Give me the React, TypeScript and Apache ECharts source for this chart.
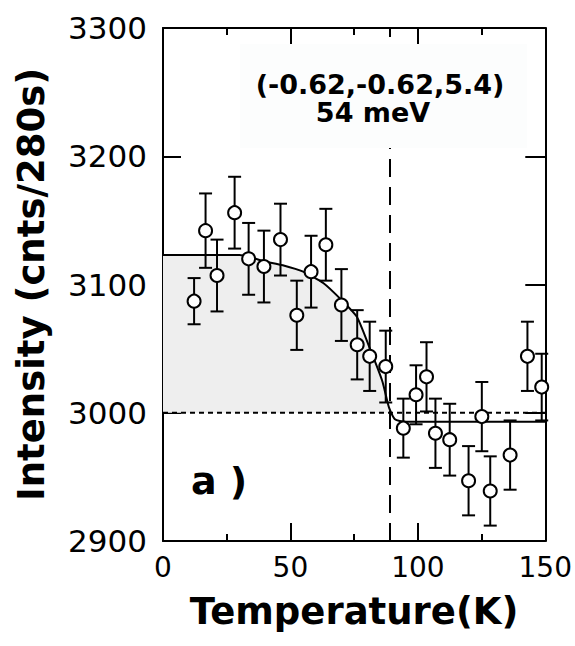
import React, { useEffect, useRef } from "react";
import * as echarts from "echarts";

// Measured data points (temperature in K, intensity in counts/280s, error bar half-height)
const temps = [12.2, 16.7, 21.2, 28.1, 33.6, 39.6, 46.1, 52.5, 58.1, 63.9, 70.0, 76.2, 81.1, 87.4, 94.3, 99.3, 103.4, 106.9, 112.5, 119.9, 125.1, 128.4, 136.2, 143.0, 148.6];
const intensities = [3087, 3142, 3107, 3156, 3120, 3114, 3135, 3076, 3110, 3131, 3084, 3053, 3044, 3036, 2988, 3014, 3028, 2984, 2979, 2947, 2997, 2939, 2967, 3044, 3020];
const errors = [18, 29, 28, 28, 28, 28, 28, 27, 28, 28, 28, 27, 27, 28, 23, 23, 27, 27, 28, 27, 27, 27, 27, 27, 26];

// Fit curve
const fitT = [0, 30, 40, 47, 55, 63, 70, 76, 81, 86, 88.7, 91, 95, 150];
const fitI = [3123, 3123, 3118, 3115, 3110, 3101, 3088, 3075, 3051, 3025, 3004, 2995, 2993, 2993];

const baseline = 3000;
const transitionT = 89;

const xTicks = [0, 50, 100, 150];
const yTicks = [2900, 3000, 3100, 3200, 3300];

const annotationLine1 = "(-0.62,-0.62,5.4)";
const annotationLine2 = "54 meV";
const panelLabel = "a )";

export default function App() {
  const ref = useRef<HTMLDivElement>(null);
  useEffect(() => {
    if (!ref.current) return;
    const chart = echarts.init(ref.current, null, { renderer: "svg" });
    const fitData = fitT.map((t, i) => [t, fitI[i]]);
    const fillData = fitData.filter((d) => d[1] >= baseline);
    const pts = temps.map((t, i) => [t, intensities[i], errors[i]]);
    const bold = "DejaVu Sans";
    const plain = (v: number) => String(v);
    const option: any = {
      animation: false,
      backgroundColor: "#ffffff",
      grid: { left: 163, right: 28, top: 28, bottom: 105 },
      xAxis: [
        {
          type: "value",
          min: xTicks[0],
          max: xTicks[xTicks.length - 1],
          interval: 50,
          name: "Temperature(K)",
          nameLocation: "middle",
          nameGap: 52,
          nameTextStyle: { fontFamily: bold, fontWeight: "bold", fontSize: 37, color: "#000" },
          axisLine: { show: true, onZero: false, lineStyle: { color: "#000", width: 2 } },
          axisTick: { show: true, inside: true, length: 18, lineStyle: { color: "#000", width: 2 } },
          minorTick: { show: true, splitNumber: 2, length: 7, lineStyle: { color: "#000", width: 2 } },
          splitLine: { show: false },
          axisLabel: { fontFamily: "DejaVu Sans", fontSize: 28, color: "#000", margin: 12, formatter: plain },
        },
        {
          type: "value",
          position: "top",
          min: xTicks[0],
          max: xTicks[xTicks.length - 1],
          interval: 50,
          axisLine: { show: true, onZero: false, lineStyle: { color: "#000", width: 2 } },
          axisTick: { show: true, inside: true, length: 17, lineStyle: { color: "#000", width: 2 } },
          minorTick: { show: true, splitNumber: 2, length: 7, lineStyle: { color: "#000", width: 2 } },
          splitLine: { show: false },
          axisLabel: { show: false },
        },
      ],
      yAxis: [
        {
          type: "value",
          min: yTicks[0],
          max: yTicks[yTicks.length - 1],
          interval: 100,
          name: "Intensity (cnts/280s)",
          nameLocation: "middle",
          nameGap: 113,
          nameTextStyle: { fontFamily: bold, fontWeight: "bold", fontSize: 37, color: "#000" },
          axisLine: { show: true, onZero: false, lineStyle: { color: "#000", width: 2 } },
          axisTick: { show: true, inside: true, length: 18, lineStyle: { color: "#000", width: 2 } },
          splitLine: { show: false },
          axisLabel: { fontFamily: "DejaVu Sans", fontSize: 31, color: "#000", margin: 16, formatter: plain },
        },
        {
          type: "value",
          position: "right",
          min: yTicks[0],
          max: yTicks[yTicks.length - 1],
          interval: 100,
          axisLine: { show: true, onZero: false, lineStyle: { color: "#000", width: 2 } },
          axisTick: { show: true, inside: true, length: 20, lineStyle: { color: "#000", width: 2 } },
          splitLine: { show: false },
          axisLabel: { show: false },
        },
      ],
      series: [
        {
          type: "line",
          data: fillData,
          symbol: "none",
          lineStyle: { width: 0, opacity: 0 },
          areaStyle: { color: "#eeeeee", opacity: 1, origin: baseline },
          z: 1,
          silent: true,
        },
        {
          type: "line",
          data: [[xTicks[0], baseline], [xTicks[xTicks.length - 1], baseline]],
          symbol: "none",
          lineStyle: { color: "#000", width: 2, type: [5, 4] },
          z: 2,
          silent: true,
          markLine: {
            silent: true,
            symbol: "none",
            label: { show: false },
            lineStyle: { color: "#000", width: 2, type: [18, 10] },
            data: [{ xAxis: transitionT }],
          },
        },
        {
          type: "line",
          data: fitData,
          symbol: "none",
          smooth: 0.2,
          lineStyle: { color: "#000", width: 2 },
          z: 3,
          silent: true,
        },
        {
          type: "custom",
          data: pts,
          encode: { x: 0, y: 1 },
          z: 4,
          renderItem: (params: any, api: any) => {
            const x = api.value(0);
            const y = api.value(1);
            const e = api.value(2);
            const top = api.coord([x, y + e]);
            const bot = api.coord([x, y - e]);
            const hw = 6.5;
            const st = { stroke: "#000", lineWidth: 2 };
            return {
              type: "group",
              children: [
                { type: "line", shape: { x1: top[0], y1: top[1], x2: bot[0], y2: bot[1] }, style: st },
                { type: "line", shape: { x1: top[0] - hw, y1: top[1], x2: top[0] + hw, y2: top[1] }, style: st },
                { type: "line", shape: { x1: bot[0] - hw, y1: bot[1], x2: bot[0] + hw, y2: bot[1] }, style: st },
              ],
            };
          },
        },
        {
          type: "scatter",
          data: pts.map((p) => [p[0], p[1]]),
          symbol: "circle",
          symbolSize: 13,
          itemStyle: { color: "#ffffff", borderColor: "#000", borderWidth: 2, opacity: 1 },
          z: 5,
        },
      ],
      graphic: [
        {
          type: "rect",
          shape: { x: 240, y: 44, width: 287, height: 104 },
          style: { fill: "#fcfdfd" },
          z: 100,
          silent: true,
        },
        {
          type: "text",
          x: 380,
          y: 84,
          z: 101,
          style: {
            text: annotationLine1,
            fontFamily: bold,
            fontWeight: "bold",
            fontSize: 27,
            fill: "#000",
            align: "center",
            verticalAlign: "middle",
          },
        },
        {
          type: "text",
          x: 373,
          y: 112,
          z: 101,
          style: {
            text: annotationLine2,
            fontFamily: bold,
            fontWeight: "bold",
            fontSize: 27,
            fill: "#000",
            align: "center",
            verticalAlign: "middle",
          },
        },
        {
          type: "text",
          x: 219,
          y: 481,
          z: 101,
          style: {
            text: panelLabel,
            fontFamily: bold,
            fontWeight: "bold",
            fontSize: 38,
            fill: "#000",
            align: "center",
            verticalAlign: "middle",
          },
        },
      ],
    };
    chart.setOption(option);
    return () => chart.dispose();
  }, []);
  return (
    <div
      ref={ref}
      style={{ position: "fixed", left: 0, top: 0, width: 575, height: 646, background: "#fff" }}
    />
  );
}
